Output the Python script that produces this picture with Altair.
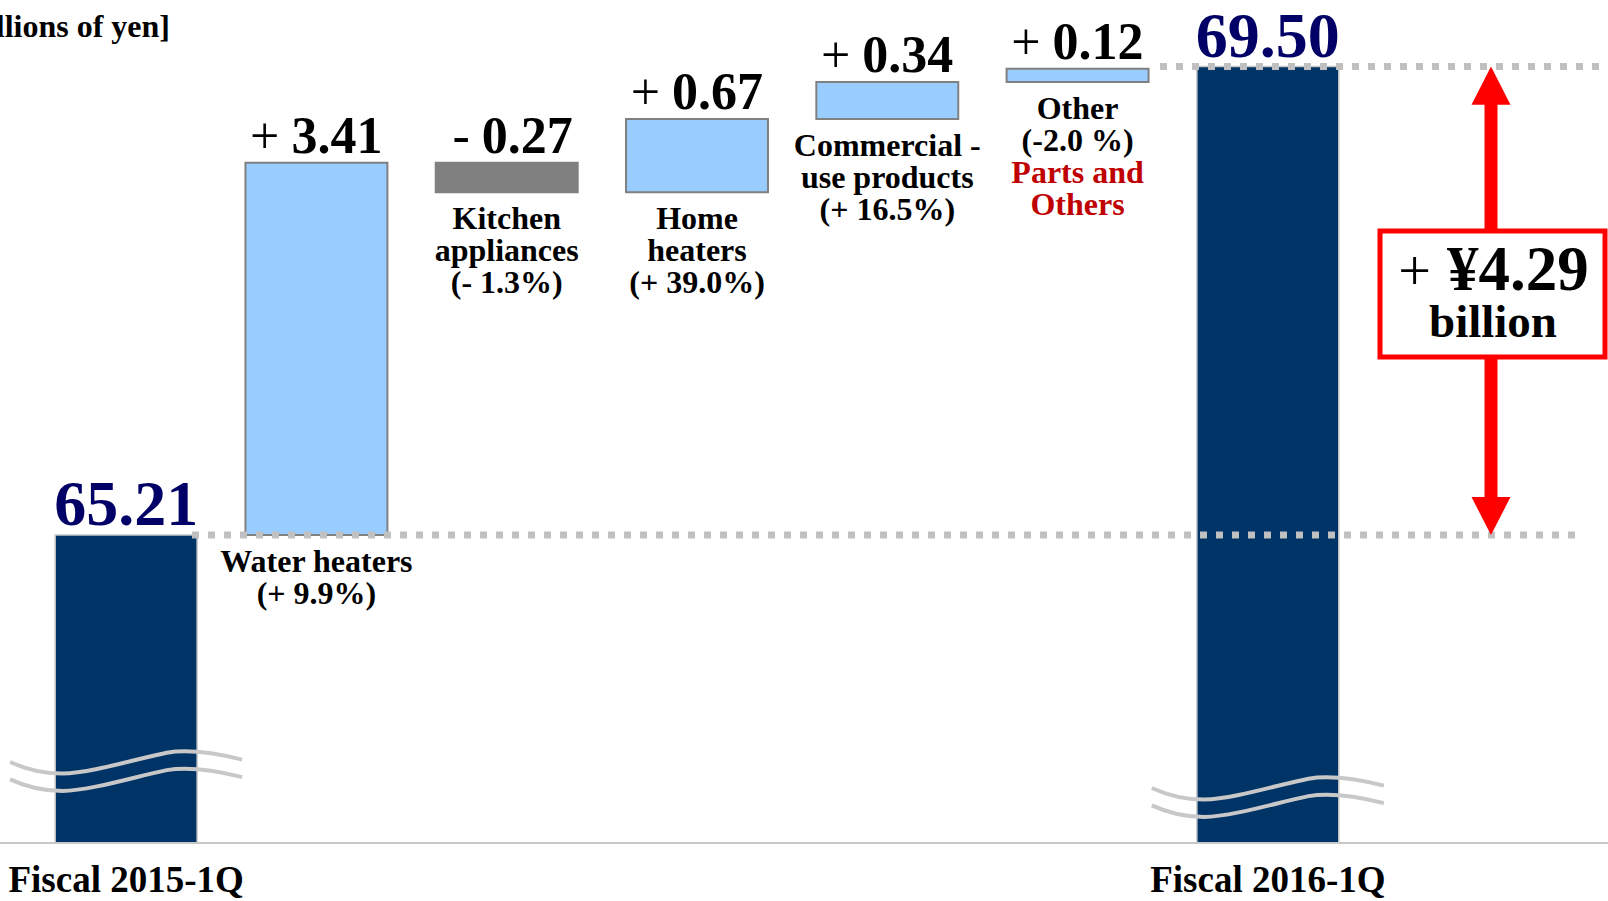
import altair as alt
import pandas as pd

# ---------------- data ----------------
categories = ["Fiscal 2015-1Q", "Water heaters", "Kitchen appliances", "Home heaters",
              "Commercial-use products", "Other", "Fiscal 2016-1Q"]
total_labels = ["Fiscal 2015-1Q", "Fiscal 2016-1Q"]
total_values = [65.21, 69.50]
delta_categories = ["Water heaters", "Kitchen appliances", "Home heaters",
                    "Commercial-use products", "Other"]
delta_values = [3.41, -0.27, 0.67, 0.34, 0.12]
delta_captions = ["Water heaters\n(+ 9.9%)",
                  "Kitchen\nappliances\n(- 1.3%)",
                  "Home\nheaters\n(+ 39.0%)",
                  "Commercial -\nuse products\n(+ 16.5%)",
                  "Other\n(-2.0 %)"]
note_categories = ["Other"]
note_texts = ["Parts and\nOthers"]
change_sign = ["+"]
change_amount = ["¥4.29"]
change_unit = ["billion"]
unit_label = ["[Billions of yen]"]

# ---------------- tables ----------------
starts, ends = [], []
level = total_values[0]
for d in delta_values:
    starts.append(level)
    level = round(level + d, 2)
    ends.append(level)

df_tot = pd.DataFrame({"cat": total_labels, "value": total_values})
df_delta = pd.DataFrame({"cat": delta_categories, "delta": delta_values,
                         "start": starts, "end": ends, "caption": delta_captions})
df_note = df_delta[df_delta["cat"].isin(note_categories)][["cat", "start", "end"]].copy()
df_note["note"] = note_texts
df_arrow = pd.DataFrame({"from": [total_values[0]], "to": [total_values[1]]})

Y_MIN, Y_MAX = 62.39, 70.11
PLOT_H = 843
FONT = "Liberation Serif"

xscale = alt.Scale(domain=categories, range=[31, 1363], paddingInner=0.254, paddingOuter=0.127)
yscale = alt.Scale(domain=[Y_MIN, Y_MAX], nice=False, zero=False)
xaxis = alt.Axis(labelExpr="indexof(['Fiscal 2015-1Q','Fiscal 2016-1Q'], datum.value) >= 0 ? datum.value : ''",
                 domain=False, ticks=False, grid=False, title=None, labelAngle=0,
                 labelFont=FONT, labelFontSize=37, labelFontWeight="bold", labelColor="black",
                 labelPadding=19, labelLimit=600, labelOverlap=False)
X = alt.X("cat:N", scale=xscale, axis=xaxis)


def Y(field):
    return alt.Y(field, scale=yscale, axis=None)


base_tot = alt.Chart(df_tot)

# total bars run down to the bottom of the (broken) value axis
total_bars = base_tot.transform_calculate(base=f"{Y_MIN}").mark_bar(
    color="#003366", stroke="#c8c8c8", strokeWidth=1.5).encode(
    x=X, y=Y("value:Q"), y2="base:Q")

delta_bars = alt.Chart(df_delta).mark_bar(stroke="#808080", strokeWidth=2).encode(
    x=X, y=Y("start:Q"), y2="end:Q",
    fill=alt.condition(alt.datum.delta < 0, alt.value("#808080"), alt.value("#99ccff")))

dash_low = base_tot.transform_filter(alt.datum.cat == total_labels[0]).mark_rule(
    color="#c0c0c0", strokeWidth=7, strokeDash=[7, 9]).encode(
    y=Y("value:Q"), x=alt.value(192), x2=alt.value(1578))
dash_high = base_tot.transform_filter(alt.datum.cat == total_labels[1]).mark_rule(
    color="#c0c0c0", strokeWidth=7, strokeDash=[7, 9]).encode(
    y=Y("value:Q"), x=alt.value(1160), x2=alt.value(1600))

wave = ("M-1,0.0 C-0.85,0.07 -0.72,0.1 -0.55,0.1 C-0.3,0.095 0.1,-0.03 0.35,-0.08 "
        "C0.5,-0.105 0.7,-0.095 1,-0.02 "
        "M-1,0.15 C-0.85,0.22 -0.72,0.25 -0.55,0.25 C-0.3,0.245 0.1,0.12 0.35,0.07 "
        "C0.5,0.045 0.7,0.055 1,0.13")
wave1 = base_tot.transform_filter(alt.datum.cat == total_labels[0]).mark_point(
    shape=wave, size=232 * 232, filled=False, stroke="#c8c8c8", strokeWidth=4, opacity=1).encode(
    x=X, y=alt.value(762))
wave2 = base_tot.transform_filter(alt.datum.cat == total_labels[1]).mark_point(
    shape=wave, size=232 * 232, filled=False, stroke="#c8c8c8", strokeWidth=4, opacity=1).encode(
    x=X, y=alt.value(788))

arrow_x = 1491
arrow_line = alt.Chart(df_arrow).mark_rule(color="#ff0000", strokeWidth=13, yOffset=25, y2Offset=-25).encode(
    x=alt.value(arrow_x), y=Y("to:Q"), y2="from:Q")
head_up = alt.Chart(df_arrow).mark_point(shape="M0,0 L1,1.95 L-1,1.95 Z", size=39 * 39, filled=True,
                                         color="#ff0000", opacity=1, strokeWidth=0).encode(
    x=alt.value(arrow_x), y=Y("to:Q"))
head_down = alt.Chart(df_arrow).mark_point(shape="M0,0 L1,-1.95 L-1,-1.95 Z", size=39 * 39, filled=True,
                                           color="#ff0000", opacity=1, strokeWidth=0).encode(
    x=alt.value(arrow_x), y=Y("from:Q"))

box_df = pd.DataFrame({"sign": change_sign, "amount": change_amount, "unit": change_unit})
box = alt.Chart(box_df).mark_rect(fill="white", stroke="#ff0000", strokeWidth=5).encode(
    x=alt.value(1380), x2=alt.value(1605), y=alt.value(231), y2=alt.value(357))
box_sign = alt.Chart(box_df).mark_text(font=FONT, fontSize=58, align="right", baseline="alphabetic",
                                       color="black").encode(
    x=alt.value(1431), y=alt.value(290), text="sign:N")
box_amount = alt.Chart(box_df).mark_text(font=FONT, fontSize=63, fontWeight="bold", align="left",
                                         baseline="alphabetic", color="black").encode(
    x=alt.value(1447), y=alt.value(290), text="amount:N")
box_unit = alt.Chart(box_df).mark_text(font=FONT, fontSize=47, fontWeight="bold", align="center",
                                       baseline="alphabetic", color="black").encode(
    x=alt.value(1493), y=alt.value(337), text="unit:N")

total_text = base_tot.mark_text(font=FONT, fontSize=64, fontWeight="bold", color="#000066",
                                baseline="alphabetic", dy=-10).encode(
    x=X, y=Y("value:Q"), text=alt.Text("value:Q", format=".2f"))

delta_base = alt.Chart(df_delta).transform_calculate(
    top="max(datum.start, datum.end)", low="min(datum.start, datum.end)",
    sign="datum.delta < 0 ? '-' : '+'", num="format(abs(datum.delta), '.2f')")
delta_sign = delta_base.mark_text(font=FONT, fontSize=52, color="black", align="right",
                                  baseline="alphabetic", dx=-37, dy=-10).encode(
    x=X, y=Y("top:Q"), text="sign:N")
delta_num = delta_base.mark_text(font=FONT, fontSize=52, fontWeight="bold", color="black", align="left",
                                 baseline="alphabetic", dx=-25, dy=-10).encode(
    x=X, y=Y("top:Q"), text="num:N")
captions = delta_base.mark_text(font=FONT, fontSize=32, fontWeight="bold", color="black", align="center",
                                baseline="top", dy=12, lineHeight=32, lineBreak="\n").encode(
    x=X, y=Y("low:Q"), text="caption:N")

note = alt.Chart(df_note).transform_calculate(
    low="min(datum.start, datum.end)").mark_text(
    font=FONT, fontSize=32, fontWeight="bold", color="#c00000", align="center",
    baseline="top", dy=12 + 2 * 32, lineHeight=32, lineBreak="\n").encode(
    x=X, y=Y("low:Q"), text="note:N")

unit_text = alt.Chart(pd.DataFrame({"t": unit_label})).mark_text(
    font=FONT, fontSize=32, fontWeight="bold", color="black", align="right", baseline="alphabetic").encode(
    x=alt.value(170), y=alt.value(37), text="t:N")

axis_line = alt.Chart(pd.DataFrame({"t": unit_label})).mark_rule(
    color="#c8c8c8", strokeWidth=2).encode(
    x=alt.value(0), x2=alt.value(1608), y=alt.value(PLOT_H))

chart = alt.layer(
    total_bars, delta_bars, axis_line, dash_low, dash_high, wave1, wave2,
    arrow_line, head_up, head_down, box, box_sign, box_amount, box_unit,
    total_text, delta_sign, delta_num, captions, note, unit_text
).properties(
    width=1608, height=PLOT_H,
    autosize=alt.AutoSizeParams(type="none"),
    padding={"left": 0, "top": 0, "right": 0, "bottom": 57},
    background="white",
).configure_view(stroke=None)

chart.save("out.html", embed_options={"renderer": "svg", "actions": False})
